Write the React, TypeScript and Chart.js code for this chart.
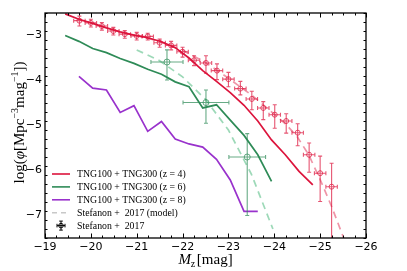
import { useEffect, useRef } from "react";
import { Chart, registerables } from "chart.js";

Chart.register(...registerables);

// ---- Data ----
const MAG_BINS = [-19.44, -19.74, -20.04, -20.34, -20.64, -20.94, -21.24, -21.54, -21.84, -22.14, -22.44, -22.74, -23.04, -23.34, -23.64, -23.94, -24.24, -24.54, -24.84];
const TNG_Z4 = [-2.52, -2.64, -2.73, -2.83, -2.92, -2.99, -3.05, -3.14, -3.27, -3.5, -3.78, -4.02, -4.27, -4.55, -4.9, -5.32, -5.65, -6.02, -6.32];
const TNG_Z6 = [-3.0, -3.13, -3.29, -3.38, -3.51, -3.62, -3.75, -3.86, -4.03, -4.14, -4.61, -4.54, -4.88, -5.22, -5.65, -6.24, null, null, null];
const TNG_Z8 = [null, -3.91, -4.17, -4.21, -4.71, -4.56, -5.13, -4.91, -5.3, -5.41, -5.48, -5.75, -6.21, -6.91, -6.91, null, null, null, null];

const MODEL_Z4_MAG = [-21.0, -21.5, -22.0, -22.5, -23.0, -23.5, -24.0, -24.25, -24.5, -24.75, -25.0, -25.25, -25.55];
const MODEL_Z4_PHI = [-3.0, -3.13, -3.33, -3.6, -3.95, -4.32, -4.75, -4.97, -5.25, -5.65, -6.2, -6.8, -7.6];
const MODEL_Z6_MAG = [-21.0, -21.5, -22.0, -22.5, -23.0, -23.5, -23.97];
const MODEL_Z6_PHI = [-3.32, -3.56, -3.92, -4.42, -5.1, -6.08, -7.3];

const OBS_Z4_MAG = [-19.75, -20.0, -20.24, -20.49, -20.74, -21.0, -21.24, -21.5, -21.75, -22.0, -22.25, -22.51, -22.75, -23.0, -23.26, -23.51, -23.76, -24.01, -24.26, -24.51, -24.76, -25.0, -25.25];
const OBS_Z4_PHI = [-2.67, -2.72, -2.79, -2.9, -2.97, -3.01, -3.02, -3.16, -3.22, -3.36, -3.55, -3.61, -3.78, -3.97, -4.18, -4.41, -4.61, -4.76, -4.9, -5.16, -5.65, -6.06, -6.36];
const OBS_Z4_ERR_UP = [0.1, 0.08, 0.08, 0.08, 0.08, 0.08, 0.07, 0.08, 0.09, 0.1, 0.1, 0.16, 0.15, 0.15, 0.16, 0.17, 0.14, 0.22, 0.16, 0.2, 0.26, 0.38, 0.52];
const OBS_Z4_ERR_DN = [0.12, 0.09, 0.09, 0.09, 0.09, 0.09, 0.08, 0.1, 0.1, 0.12, 0.12, 0.23, 0.2, 0.17, 0.14, 0.24, 0.26, 0.3, 0.27, 0.29, 0.39, 0.63, 2.0];
const OBS_Z4_XERR = [0.125, 0.125, 0.125, 0.125, 0.125, 0.125, 0.125, 0.125, 0.125, 0.125, 0.125, 0.125, 0.125, 0.125, 0.125, 0.125, 0.125, 0.125, 0.125, 0.125, 0.125, 0.125, 0.125];

const OBS_Z6_MAG = [-21.66, -22.51, -23.41];
const OBS_Z6_PHI = [-3.59, -4.49, -5.7];
const OBS_Z6_ERR_UP = [0.27, 0.28, 0.52];
const OBS_Z6_ERR_DN = [0.4, 0.46, 1.3];
const OBS_Z6_XERR = [0.35, 0.5, 0.4];

const X_TICKS = [-19, -20, -21, -22, -23, -24, -25, -26];
const Y_TICKS = [-3, -4, -5, -6, -7];

const LEGEND_LABELS = [
  "TNG100 + TNG300 (z = 4)",
  "TNG100 + TNG300 (z = 6)",
  "TNG100 + TNG300 (z = 8)",
  "Stefanon +  2017 (model)",
  "Stefanon +  2017",
];

// ---- Styles ----
const RED = "#dc143c";
const GREEN = "#2e8b57";
const PURPLE = "#9932cc";
const RED_PTS = "rgba(220,20,60,0.72)";
const GREEN_PTS = "rgba(46,139,87,0.72)";
const RED_MODEL = "rgba(220,20,60,0.45)";
const GREEN_MODEL = "rgba(60,179,113,0.5)";
const SERIF = '"Liberation Serif", "DejaVu Serif", serif';
const SANS = '"DejaVu Sans", sans-serif';

const toXY = (xs: number[], ys: (number | null)[]) =>
  xs.map((x, i) => ({ x, y: ys[i] })).filter((p) => p.y !== null) as { x: number; y: number }[];

const minus = (v: number) => (v < 0 ? "\u2212" + Math.abs(v) : String(v));

type Part = { t: string; size: number; italic?: boolean; dy?: number; gap?: number };
const fontOf = (p: Part) => `${p.italic ? "italic " : ""}${p.size}px ${SERIF}`;
function drawRich(ctx: CanvasRenderingContext2D, parts: Part[], x: number, y: number, rotate = false) {
  let total = 0;
  const ws = parts.map((p) => {
    ctx.font = fontOf(p);
    const w = ctx.measureText(p.t).width + (p.gap || 0);
    total += w;
    return w;
  });
  ctx.save();
  ctx.translate(x, y);
  if (rotate) ctx.rotate(-Math.PI / 2);
  ctx.textAlign = "left";
  ctx.textBaseline = "alphabetic";
  ctx.fillStyle = "#000";
  let cx = -total / 2;
  parts.forEach((p, i) => {
    ctx.font = fontOf(p);
    ctx.fillText(p.t, cx, p.dy || 0);
    cx += ws[i];
  });
  ctx.restore();
}

const errorBarSets = [
  { xs: OBS_Z4_MAG, ys: OBS_Z4_PHI, up: OBS_Z4_ERR_UP, dn: OBS_Z4_ERR_DN, xe: OBS_Z4_XERR, color: RED_PTS },
  { xs: OBS_Z6_MAG, ys: OBS_Z6_PHI, up: OBS_Z6_ERR_UP, dn: OBS_Z6_ERR_DN, xe: OBS_Z6_XERR, color: GREEN_PTS },
];

const errorBarPlugin = {
  id: "errorBars",
  afterDatasetsDraw(chart: any) {
    const { ctx, chartArea: a, scales } = chart;
    const xs = scales.x, ys = scales.y;
    ctx.save();
    ctx.beginPath();
    ctx.rect(a.left, a.top, a.right - a.left, a.bottom - a.top);
    ctx.clip();
    ctx.lineWidth = 1.1;
    const cap = 2;
    errorBarSets.forEach((s) => {
      ctx.strokeStyle = s.color;
      s.xs.forEach((xv, i) => {
        const px = xs.getPixelForValue(xv);
        const py = ys.getPixelForValue(s.ys[i]);
        const x1 = xs.getPixelForValue(xv - s.xe[i]);
        const x2 = xs.getPixelForValue(xv + s.xe[i]);
        const y1 = ys.getPixelForValue(s.ys[i] + s.up[i]);
        const y2 = ys.getPixelForValue(s.ys[i] - s.dn[i]);
        ctx.beginPath();
        ctx.moveTo(x1, py); ctx.lineTo(x2, py);
        ctx.moveTo(px, y1); ctx.lineTo(px, y2);
        ctx.moveTo(x1, py - cap); ctx.lineTo(x1, py + cap);
        ctx.moveTo(x2, py - cap); ctx.lineTo(x2, py + cap);
        ctx.moveTo(px - cap, y1); ctx.lineTo(px + cap, y1);
        ctx.moveTo(px - cap, y2); ctx.lineTo(px + cap, y2);
        ctx.stroke();
      });
    });
    ctx.restore();
  },
};

const axesPlugin = {
  id: "mplAxes",
  afterDraw(chart: any) {
    const { ctx, chartArea: a, scales } = chart;
    const xs = scales.x, ys = scales.y;
    ctx.save();
    // ticks
    ctx.strokeStyle = "#000";
    ctx.lineWidth = 1;
    const tick = (x1: number, y1: number, x2: number, y2: number) => {
      ctx.beginPath(); ctx.moveTo(x1, y1); ctx.lineTo(x2, y2); ctx.stroke();
    };
    const maj = 4.5, mnr = 2.5;
    for (let k = 0; k <= 28; k++) {
      const v = -19 - k * 0.25;
      const px = Math.round(xs.getPixelForValue(v)) + 0.5;
      const len = k % 4 === 0 ? maj : mnr;
      tick(px, a.bottom, px, a.bottom - len);
      tick(px, a.top, px, a.top + len);
    }
    for (let k = 0; k <= 25; k++) {
      const v = -2.5 - k * 0.2;
      const py = Math.round(ys.getPixelForValue(v)) + 0.5;
      const isMaj = Math.abs(v - Math.round(v)) < 1e-6;
      const len = isMaj ? maj : mnr;
      tick(a.left, py, a.left + len, py);
      tick(a.right, py, a.right - len, py);
    }
    // frame
    ctx.lineWidth = 1.3;
    ctx.strokeRect(a.left, a.top, a.right - a.left, a.bottom - a.top);

    // tick labels
    ctx.fillStyle = "#000";
    ctx.font = `11px ${SANS}`;
    ctx.textAlign = "center";
    ctx.textBaseline = "middle";
    X_TICKS.forEach((v) => ctx.fillText(minus(v), xs.getPixelForValue(v), a.bottom + 9));
    ctx.textAlign = "right";
    Y_TICKS.forEach((v) => ctx.fillText(minus(v), a.left - 3, ys.getPixelForValue(v)));

    // axis titles
    drawRich(ctx, [
      { t: "M", size: 15, italic: true },
      { t: "z", size: 10, dy: 3, gap: 1.5 },
      { t: "[mag]", size: 15 },
    ], (a.left + a.right) / 2, a.bottom + 26);
    drawRich(ctx, [
      { t: "log(", size: 15 },
      { t: "\u03c6", size: 15, italic: true },
      { t: "[Mpc", size: 15 },
      { t: "\u22123", size: 10, dy: -6 },
      { t: "mag", size: 15 },
      { t: "\u22121", size: 10, dy: -6 },
      { t: "])", size: 15 },
    ], 24, (a.top + a.bottom) / 2 - 3, true);

    // legend
    const rowY = (i: number) => a.bottom - 64 + i * 12.9;
    const lx1 = a.left + 7, lx2 = a.left + 25, tx = a.left + 32;
    const handles = [RED, GREEN, PURPLE];
    ctx.lineWidth = 1.6;
    handles.forEach((c, i) => {
      ctx.strokeStyle = c;
      tick(lx1, rowY(i), lx2, rowY(i));
    });
    ctx.strokeStyle = "#c8c8c8";
    ctx.setLineDash([5, 4]);
    tick(lx1, rowY(3), lx2, rowY(3));
    ctx.setLineDash([]);
    // errorbar handle
    const mx = (lx1 + lx2) / 2, my = rowY(4);
    ctx.strokeStyle = "#000";
    ctx.lineWidth = 1;
    ctx.beginPath();
    ctx.moveTo(mx - 4, my); ctx.lineTo(mx + 4, my);
    ctx.moveTo(mx, my - 4.5); ctx.lineTo(mx, my + 4.5);
    ctx.moveTo(mx - 4, my - 1.8); ctx.lineTo(mx - 4, my + 1.8);
    ctx.moveTo(mx + 4, my - 1.8); ctx.lineTo(mx + 4, my + 1.8);
    ctx.moveTo(mx - 1.8, my - 4.5); ctx.lineTo(mx + 1.8, my - 4.5);
    ctx.moveTo(mx - 1.8, my + 4.5); ctx.lineTo(mx + 1.8, my + 4.5);
    ctx.stroke();
    ctx.beginPath();
    ctx.arc(mx, my, 2.3, 0, Math.PI * 2);
    ctx.stroke();

    ctx.fillStyle = "#000";
    ctx.font = `9.8px ${SERIF}`;
    ctx.textAlign = "left";
    ctx.textBaseline = "middle";
    LEGEND_LABELS.forEach((t, i) => ctx.fillText(t, tx, rowY(i) + 0.5));
    ctx.restore();
  },
};

export default function App() {
  const ref = useRef<HTMLCanvasElement | null>(null);
  useEffect(() => {
    if (!ref.current) return;
    const chart = new Chart(ref.current, {
      type: "scatter",
      data: {
        datasets: [
          {
            data: toXY(OBS_Z4_MAG, OBS_Z4_PHI),
            pointRadius: 2.5,
            pointBorderWidth: 1,
            borderColor: RED_PTS,
            backgroundColor: "rgba(0,0,0,0)",
            showLine: false,
          },
          {
            data: toXY(OBS_Z6_MAG, OBS_Z6_PHI),
            pointRadius: 3,
            pointBorderWidth: 1,
            borderColor: GREEN_PTS,
            backgroundColor: "rgba(0,0,0,0)",
            showLine: false,
          },
          { data: toXY(MAG_BINS, TNG_Z4), showLine: true, borderColor: RED, borderWidth: 1.7, pointRadius: 0, tension: 0 },
          { data: toXY(MAG_BINS, TNG_Z6), showLine: true, borderColor: GREEN, borderWidth: 1.7, pointRadius: 0, tension: 0 },
          { data: toXY(MAG_BINS, TNG_Z8), showLine: true, borderColor: PURPLE, borderWidth: 1.7, pointRadius: 0, tension: 0 },
          { data: toXY(MODEL_Z4_MAG, MODEL_Z4_PHI), showLine: true, borderColor: RED_MODEL, borderWidth: 1.7, borderDash: [7, 5], pointRadius: 0, tension: 0 },
          { data: toXY(MODEL_Z6_MAG, MODEL_Z6_PHI), showLine: true, borderColor: GREEN_MODEL, borderWidth: 1.7, borderDash: [7, 5], pointRadius: 0, tension: 0 },
        ],
      },
      options: {
        animation: false,
        responsive: true,
        maintainAspectRatio: false,
        events: [],
        layout: { padding: { left: 45, right: 41, top: 13, bottom: 33 } },
        plugins: { legend: { display: false }, tooltip: { enabled: false } },
        scales: {
          x: { type: "linear", min: -26, max: -19, reverse: true, display: false },
          y: { type: "linear", min: -7.5, max: -2.5, display: false },
        },
      },
      plugins: [errorBarPlugin, axesPlugin],
    });
    return () => chart.destroy();
  }, []);
  return (
    <div style={{ position: "fixed", left: 0, top: 0, width: 407, height: 271, background: "#fff" }}>
      <canvas ref={ref} />
    </div>
  );
}
